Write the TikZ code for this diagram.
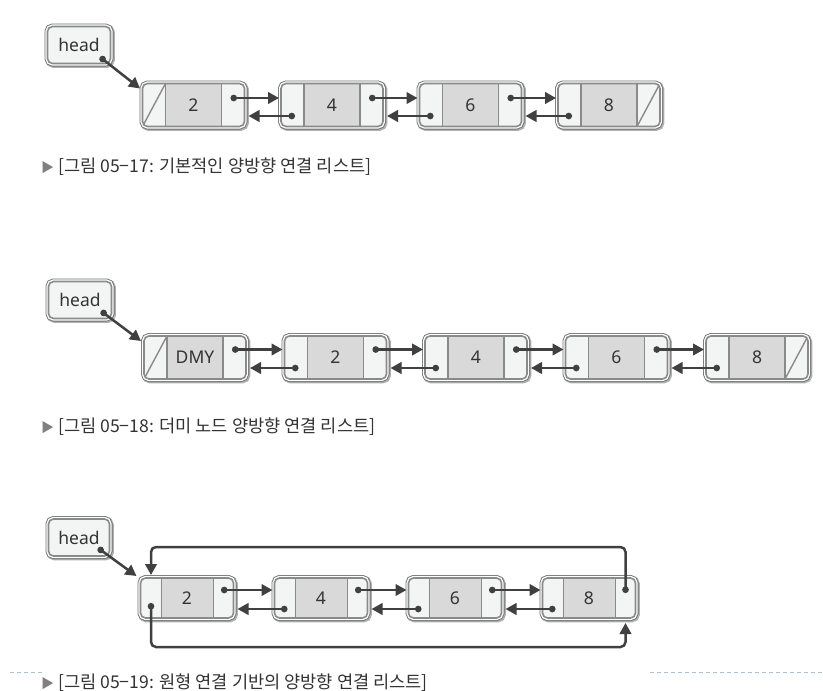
\documentclass[tikz,border=0pt]{standalone}
\usepackage{fontspec}
\setmainfont{Noto Sans}
\newfontfamily\krfont{Noto Sans CJK KR}
\usetikzlibrary{arrows.meta,calc}
\definecolor{bord}{HTML}{8A8A8A}
\definecolor{frame}{HTML}{707070}
\definecolor{shad}{HTML}{B0B0B0}
\definecolor{side}{HTML}{F3F4F4}
\definecolor{mid}{HTML}{D9D9D9}
\definecolor{ink}{HTML}{404040}
\definecolor{txt}{HTML}{333333}
\definecolor{dashblue}{HTML}{A6C2DE}
\def\cellL{23}
\def\cellR{23}
\def\nullside{N}
\tikzset{
  framed/.style={rounded corners=5pt,
    preaction={draw=shad, line width=6.5pt, transform canvas={shift={(1.2,1.2)}}},
    preaction={draw=frame, line width=6pt},
    preaction={draw=white, line width=4.2pt},
    draw=bord, line width=1.6pt, outer sep=0pt, inner sep=0pt},
  headbox/.style={framed, fill=side, minimum width=63pt, minimum height=37pt,
    font=\fontsize{17.5}{20}\selectfont, text=txt},
  cells/.code 2 args={\def\cellL{#1}\def\cellR{#2}},
  nullL/.code={\def\nullside{L}},
  nullR/.code={\def\nullside{R}},
  lnode/.style={framed, fill=side, text=txt, font=\fontsize{17.5}{20}\selectfont,
    path picture={
      \coordinate (pSW) at (path picture bounding box.south west);
      \coordinate (pNE) at (path picture bounding box.north east);
      \fill[mid, sharp corners] ($(pSW)+(\cellL,0)$) rectangle ($(pNE)-(\cellR,0)$);
      \draw[bord, line width=1.6pt, sharp corners] ($(pSW)+(\cellL,0)$) -- ($(pSW|-pNE)+(\cellL,0)$);
      \draw[bord, line width=1.6pt, sharp corners] ($(pNE)-(\cellR,0)$) -- ($(pNE|-pSW)-(\cellR,0)$);
      \if L\nullside
        \draw[bord, line width=1.4pt, sharp corners] (pSW) -- ($(pSW|-pNE)+(\cellL,0)$);
      \fi
      \if R\nullside
        \draw[bord, line width=1.4pt, sharp corners] ($(pNE|-pSW)-(\cellR,0)$) -- (pNE);
      \fi
    }},
  wide/.style={lnode, minimum width=102pt, minimum height=43pt},
  narrow/.style={lnode, minimum width=93pt, minimum height=40pt, cells={21}{20}},
  link/.style={draw=ink, line width=2.5pt, {Circle[length=6.5pt]}-{Triangle[length=11pt,width=11.5pt]}},
  loopline/.style={link, rounded corners=5pt},
  caption/.style={anchor=west, inner sep=0pt, text=txt, font=\krfont\fontsize{17.6}{20}\selectfont},
  dashln/.style={draw=dashblue, line width=1pt, dash pattern=on 4pt off 3pt},
}
\newcommand\tri{{\color{gray}\fontsize{13}{13}\selectfont ▶}}
\begin{document}
\begin{tikzpicture}[x=1pt, y=-1pt]
\useasboundingbox (0,0) rectangle (823,691);
\fill[white] (0,0) rectangle (823,691);

% ---------- Figure 05-17 ----------
\node[headbox] (h1) at (79,45) {head};
\node[wide, nullL] (a1) at (193.5,105) {2};
\node[wide] (a2) at (332,105) {4};
\node[wide] (a3) at (470.5,105) {6};
\node[wide, nullR] (a4) at (609,105) {8};
\draw[link] ($(h1.center)+(21,12)$) -- ($(a1.north west)+(-2.5,5)$);
\foreach \p/\q in {a1/a2, a2/a3, a3/a4}{
  \draw[link] ($(\p.east)+(-14,-7)$) -- ($(\q.west)+(-2,-7)$);
  \draw[link] ($(\q.west)+(14,11)$) -- ($(\p.east)+(4,11)$);
}
\node[caption] (cap1) at (41,167) {\tri\ [그림 05−17: 기본적인 양방향 연결 리스트]};

% ---------- Figure 05-18 ----------
\node[headbox] (h2) at (80,300) {head};
\node[wide, nullL] (b1) at (195,357.5) {DMY};
\node[wide] (b2) at (335.5,357.5) {2};
\node[wide] (b3) at (476,357.5) {4};
\node[wide] (b4) at (616.5,357.5) {6};
\node[wide, nullR] (b5) at (757,357.5) {8};
\draw[link] ($(h2.center)+(21,11)$) -- ($(b1.north west)+(-3,5)$);
\foreach \p/\q in {b1/b2, b2/b3, b3/b4, b4/b5}{
  \draw[link] ($(\p.east)+(-14,-8)$) -- ($(\q.west)+(-2,-8)$);
  \draw[link] ($(\q.west)+(14,10.5)$) -- ($(\p.east)+(4,10.5)$);
}
\node[caption] (cap2) at (41,427) {\tri\ [그림 05−18: 더미 노드 양방향 연결 리스트]};

% ---------- Figure 05-19 ----------
\node[headbox, minimum width=61pt] (h3) at (79,537.5) {head};
\node[narrow] (c1) at (187,598) {2};
\node[narrow] (c2) at (321,598) {4};
\node[narrow] (c3) at (455,598) {6};
\node[narrow] (c4) at (589,598) {8};
\draw[link] ($(h3.center)+(19,10.5)$) -- ($(c1.north west)+(-4,-2)$);
\foreach \p/\q in {c1/c2, c2/c3, c3/c4}{
  \draw[link] ($(\p.east)+(-12.5,-8)$) -- ($(\q.west)+(-2,-8)$);
  \draw[link] ($(\q.west)+(13,11)$) -- ($(\p.east)+(4,11)$);
}
\draw[loopline] ($(c4.east)+(-10,-5)$) -- ($(c4.east)+(-10,-51)$) -| ($(c1.north west)+(10.5,-3)$);
\draw[loopline] ($(c1.west)+(10.5,5)$) -- ($(c1.west)+(10.5,49)$) -| ($(c4.south east)+(-10,5)$);
\node[caption] (cap3) at (41,683) {\tri\ [그림 05−19: 원형 연결 기반의 양방향 연결 리스트]};

% decorative dashed rules
\draw[dashln] (10,672) -- (43,672);
\draw[dashln] (650,672) -- (823,672);
\end{tikzpicture}
\end{document}
